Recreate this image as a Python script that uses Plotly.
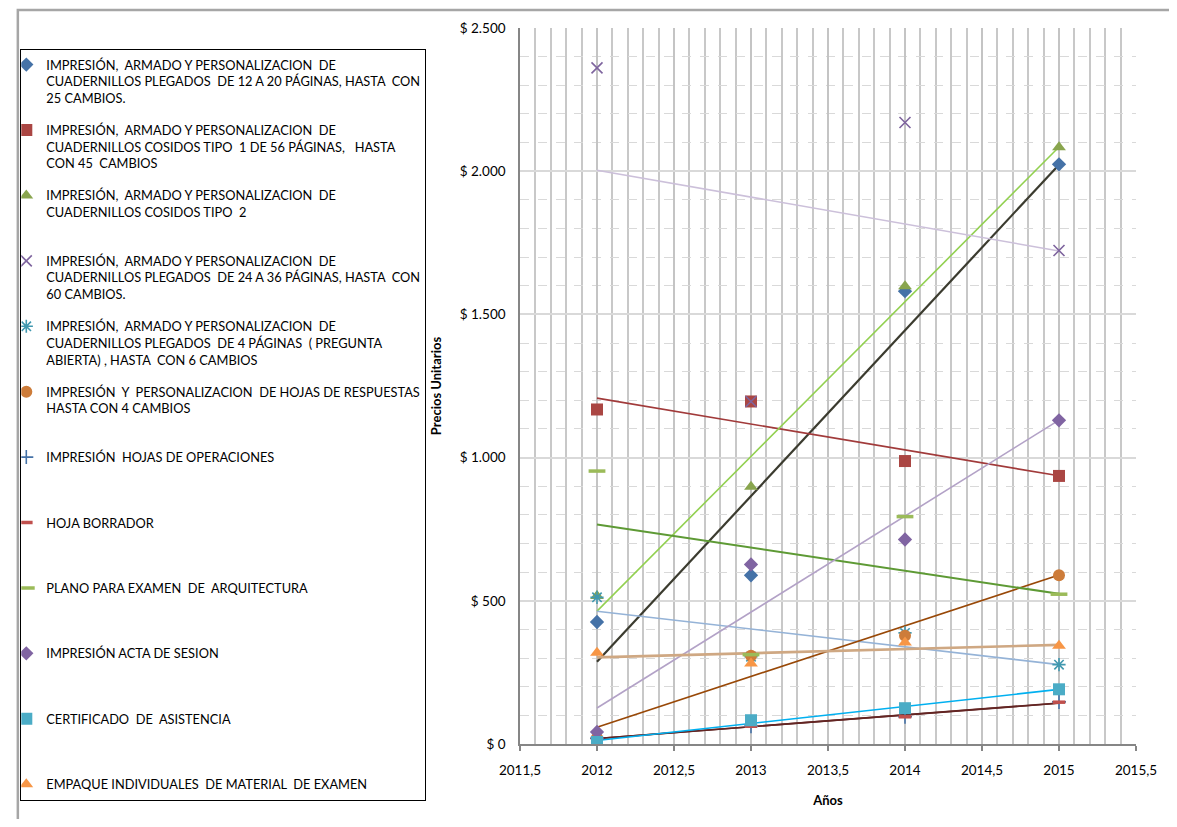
import numpy as np
import plotly.graph_objects as go

# ---------------- data ----------------
years = [2012, 2013, 2014, 2015]

names = [
    "IMPRESIÓN,  ARMADO Y PERSONALIZACION  DE<br>CUADERNILLOS PLEGADOS  DE 12 A 20 PÁGINAS, HASTA  CON<br>25 CAMBIOS.",
    "IMPRESIÓN,  ARMADO Y PERSONALIZACION  DE<br>CUADERNILLOS COSIDOS TIPO  1 DE 56 PÁGINAS,   HASTA<br>CON 45  CAMBIOS",
    "IMPRESIÓN,  ARMADO Y PERSONALIZACION  DE<br>CUADERNILLOS COSIDOS TIPO  2<br>&nbsp;",
    "IMPRESIÓN,  ARMADO Y PERSONALIZACION  DE<br>CUADERNILLOS PLEGADOS  DE 24 A 36 PÁGINAS, HASTA  CON<br>60 CAMBIOS.",
    "IMPRESIÓN,  ARMADO Y PERSONALIZACION  DE<br>CUADERNILLOS PLEGADOS  DE 4 PÁGINAS  ( PREGUNTA<br>ABIERTA) , HASTA  CON 6 CAMBIOS",
    "IMPRESIÓN  Y  PERSONALIZACION  DE HOJAS DE RESPUESTAS<br>HASTA CON 4 CAMBIOS<br>&nbsp;",
    "IMPRESIÓN  HOJAS DE OPERACIONES<br>&nbsp;<br>&nbsp;",
    "HOJA BORRADOR<br>&nbsp;<br>&nbsp;",
    "PLANO PARA EXAMEN  DE  ARQUITECTURA<br>&nbsp;<br>&nbsp;",
    "IMPRESIÓN ACTA DE SESION<br>&nbsp;<br>&nbsp;",
    "CERTIFICADO  DE  ASISTENCIA<br>&nbsp;<br>&nbsp;",
    "EMPAQUE INDIVIDUALES  DE MATERIAL  DE EXAMEN",
]

cuad_12_20 = [426, 589, 1581, 2024]
cuad_cos_1 = [1168, 1196, 988, 936]
cuad_cos_2 = [517, 898, 1598, 2084]
cuad_24_36 = [2361, 1196, 2170, 1723]
cuad_4_pag = [512, 305, 388, 277]
hojas_resp = [22, 308, 378, 589]
hojas_oper = [20, 62, 95, 147]
hoja_borr = [20, 62, 95, 146]
plano_arq = [953, 312, 794, 523]
acta_ses = [42, 627, 714, 1130]
certificado = [7, 83, 125, 191]
empaque = [319, 281, 354, 343]

y_tickvals = [0, 500, 1000, 1500, 2000, 2500]
y_ticktext = ["$ 0", "$ 500", "$ 1.000", "$ 1.500", "$ 2.000", "$ 2.500"]
x_tickvals = [2011.5, 2012, 2012.5, 2013, 2013.5, 2014, 2014.5, 2015, 2015.5]
x_ticktext = ["2011,5", "2012", "2012,5", "2013", "2013,5", "2014", "2014,5", "2015", "2015,5"]

series_values = [cuad_12_20, cuad_cos_1, cuad_cos_2, cuad_24_36, cuad_4_pag, hojas_resp,
                 hojas_oper, hoja_borr, plano_arq, acta_ses, certificado, empaque]

# ---------------- styles ----------------
marker_styles = [
    dict(symbol="diamond", size=11, color="#4572A7"),
    dict(symbol="square", size=12, color="#AA4643"),
    dict(symbol="triangle-up", size=12, color="#89A54E"),
    dict(symbol="x-thin-open", size=11, color="#7E649E", line=dict(color="#7E649E", width=1.6)),
    dict(symbol="asterisk-open", size=11, color="#4198AF", line=dict(color="#4198AF", width=1.6)),
    dict(symbol="circle", size=12, color="#CD7C3A"),
    dict(symbol="cross-thin-open", size=10, color="#4572A7", line=dict(color="#4572A7", width=1.6)),
    dict(symbol="line-ew-open", size=9, color="#C0504D", line=dict(color="#C0504D", width=3.5)),
    dict(symbol="line-ew-open", size=12, color="#9BBB59", line=dict(color="#9BBB59", width=3.5)),
    dict(symbol="diamond", size=11, color="#8064A2"),
    dict(symbol="square", size=12, color="#4BACC6"),
    dict(symbol="triangle-up", size=12, color="#F79646"),
]
trend_styles = [
    dict(color="#3B3B2F", width=2.2),
    dict(color="#A13A3A", width=1.6),
    dict(color="#92D050", width=1.6),
    dict(color="#CCC0DA", width=1.6),
    dict(color="#95B3D7", width=1.6),
    dict(color="#984807", width=1.6),
    dict(color="#632523", width=1.6),
    dict(color="#632523", width=1.6),
    dict(color="#5E9A35", width=2.0),
    dict(color="#B3A2C7", width=1.6),
    dict(color="#00B0F0", width=1.6),
    dict(color="#CFA883", width=2.6),
]

fig = go.Figure()

x_arr = np.array(years, dtype=float)
# linear trendlines (fitted from the data)
for vals, st in zip(series_values, trend_styles):
    slope, intercept = np.polyfit(x_arr, np.array(vals, dtype=float), 1)
    fig.add_trace(go.Scatter(
        x=[years[0], years[-1]],
        y=[intercept + slope * years[0], intercept + slope * years[-1]],
        mode="lines", line=st, showlegend=False, hoverinfo="skip"))

for i, (vals, nm, ms) in enumerate(zip(series_values, names, marker_styles)):
    fig.add_trace(go.Scatter(
        x=years, y=vals, mode="markers", name=nm, marker=ms,
        legendgroup=f"g{i}"))

FONT = "Lato, 'Liberation Sans', Arial, sans-serif"

fig.update_layout(
    width=1161, height=811,
    margin=dict(l=511, r=25, t=15, b=75),
    paper_bgcolor="white", plot_bgcolor="white",
    font=dict(family=FONT, size=12, color="#000000"),
    showlegend=True,
    legend=dict(
        x=-0.8112, y=0.971, xanchor="left", yanchor="top",
        bordercolor="#000000", borderwidth=1, bgcolor="white",
        font=dict(family=FONT, size=12.8, color="#000000"),
        valign="top", tracegroupgap=12.5, traceorder="grouped",
        indentation=-15, maxheight=1200,
    ),
    xaxis=dict(
        range=[2011.5, 2015.5], tickvals=x_tickvals, ticktext=x_ticktext,
        showgrid=True, gridcolor="#C4C4C4", gridwidth=1.5,
        minor=dict(dtick=0.1, tick0=2011.5, showgrid=True, gridcolor="#C8C8C8", gridwidth=1.5),
        showline=True, linecolor="#868686", linewidth=2,
        ticks="outside", ticklen=5, tickcolor="#868686", tickwidth=1.5,
        ticklabelstandoff=8,
        tickfont=dict(family=FONT, size=13.5),
        title=dict(text="<b>Años</b>", font=dict(family=FONT, size=13), standoff=19),
        zeroline=False,
    ),
    yaxis=dict(
        range=[0, 2500], tickvals=y_tickvals, ticktext=y_ticktext,
        showgrid=True, gridcolor="#D9D9D9", gridwidth=1.5,
        minor=dict(dtick=100, showgrid=True, gridcolor="#D9D9D9", griddash="dash", gridwidth=1.2),
        showline=True, linecolor="#868686", linewidth=1.5,
        ticks="", ticklabelstandoff=10, tickfont=dict(family=FONT, size=13.5),
        title=dict(text="<b>Precios Unitarios</b>", font=dict(family=FONT, size=13), standoff=15),
        zeroline=False,
    ),
    shapes=[dict(type="rect", xref="paper", yref="paper",
                 x0=-0.8152, x1=1.06, y0=-0.108, y1=1.025,
                 line=dict(color="#A6A6A6", width=2.5), fillcolor="rgba(0,0,0,0)", layer="below")],
)

fig.write_html("out.html")
